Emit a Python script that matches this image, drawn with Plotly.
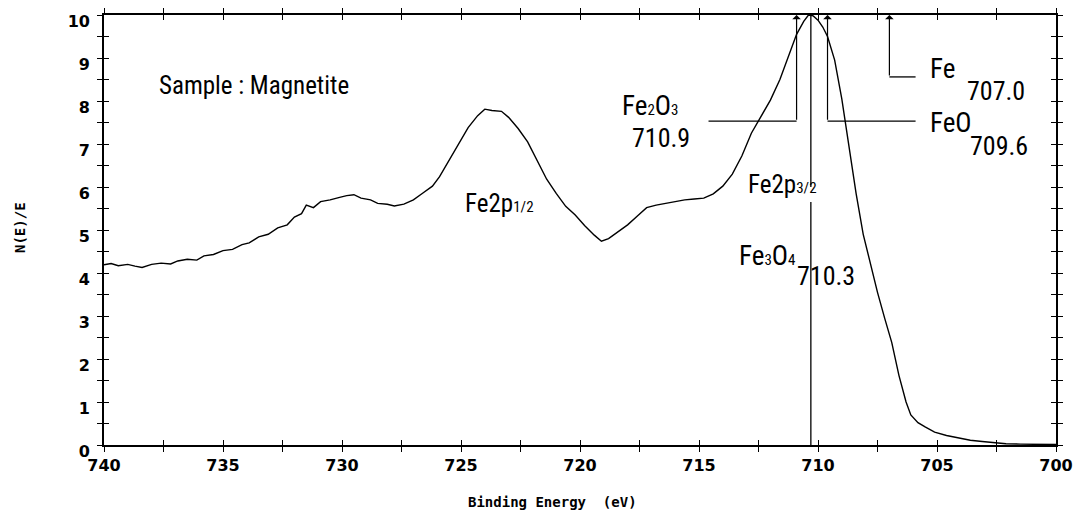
import plotly.graph_objects as go

# Fe 2p XPS spectrum of magnetite: binding energy (eV) vs normalised intensity N(E)/E
energy = [740.0, 739.7, 739.4, 739.0, 738.7, 738.4, 738.0, 737.6, 737.2, 736.9,
          736.5, 736.1, 735.8, 735.4, 735.0, 734.6, 734.2, 733.9, 733.5, 733.1,
          732.7, 732.3, 732.0, 731.7, 731.5, 731.2, 730.9, 730.5, 730.1, 729.8,
          729.5, 729.2, 728.8, 728.5, 728.1, 727.8, 727.4, 727.0, 726.6, 726.2,
          725.9, 725.5, 725.1, 724.7, 724.3, 724.0, 723.7, 723.3, 723.0, 722.6,
          722.2, 721.8, 721.4, 721.0, 720.6, 720.2, 719.8, 719.4, 719.1, 718.8,
          718.4, 718.0, 717.6, 717.2, 716.8, 716.4, 716.0, 715.6, 715.2, 714.8,
          714.4, 714.0, 713.6, 713.2, 712.8, 712.4, 712.0, 711.6, 711.2, 710.9,
          710.6, 710.4, 710.2, 710.0, 709.8, 709.6, 709.3, 709.0, 708.7, 708.4,
          708.1, 707.8, 707.5, 707.2, 706.9, 706.6, 706.3, 706.1, 705.8, 705.5,
          705.1, 704.6, 704.1, 703.6, 703.1, 702.6, 702.1, 701.5, 700.8, 700.0]
intensity = [4.19, 4.22, 4.17, 4.20, 4.16, 4.13, 4.20, 4.23, 4.21, 4.28,
             4.32, 4.30, 4.40, 4.43, 4.52, 4.55, 4.66, 4.70, 4.84, 4.90,
             5.05, 5.12, 5.30, 5.38, 5.58, 5.52, 5.66, 5.70, 5.76, 5.80,
             5.82, 5.74, 5.70, 5.62, 5.60, 5.56, 5.60, 5.70, 5.86, 6.02,
             6.24, 6.62, 7.00, 7.38, 7.66, 7.81, 7.78, 7.76, 7.62, 7.36,
             7.05, 6.62, 6.18, 5.85, 5.55, 5.35, 5.10, 4.88, 4.74, 4.80,
             4.96, 5.12, 5.32, 5.52, 5.58, 5.62, 5.66, 5.70, 5.72, 5.74,
             5.84, 6.02, 6.30, 6.72, 7.25, 7.62, 8.02, 8.50, 9.10, 9.55,
             9.85, 10.00, 9.98, 9.88, 9.72, 9.50, 8.95, 8.05, 6.95, 5.85,
             4.90, 4.22, 3.55, 2.95, 2.38, 1.62, 1.00, 0.70, 0.52, 0.42,
             0.30, 0.22, 0.16, 0.11, 0.08, 0.05, 0.03, 0.02, 0.01, 0.01]

# Reference binding energies marked on the spectrum (eV)
fe3o4_be = 710.3
fe2o3_be = 710.9
feo_be = 709.6
fe_be = 707.0

x_ticks = [740, 735, 730, 725, 720, 715, 710, 705, 700]
y_ticks = [0, 1, 2, 3, 4, 5, 6, 7, 8, 9, 10]

NARROW = "Roboto Condensed, Liberation Sans Narrow, DejaVu Sans Condensed, Roboto, sans-serif"
TICKFONT = dict(family="DejaVu Sans, sans-serif", size=16, color="black", weight="bold")
TITLEFONT = dict(family="DejaVu Sans Mono, monospace", size=14, color="black", weight="bold")

fig = go.Figure()
fig.add_trace(go.Scatter(x=energy, y=intensity, mode="lines",
                         line=dict(color="black", width=1.4), showlegend=False,
                         hoverinfo="skip"))
# empty trace so the inner tick axes get drawn
fig.add_trace(go.Scatter(x=[], y=[], xaxis="x2", yaxis="y2", showlegend=False))

axis_common = dict(showline=True, linecolor="black", linewidth=1.6, showgrid=False,
                   zeroline=False, mirror="allticks", ticklen=5, tickwidth=1.4,
                   tickcolor="black", automargin=False)

fig.update_layout(
    width=1075, height=510,
    margin=dict(l=104, r=19, t=15, b=65),
    plot_bgcolor="white", paper_bgcolor="white",
    xaxis=dict(range=[740, 700], tickvals=x_ticks, ticktext=[str(v) for v in x_ticks],
               ticks="outside", tickfont=TICKFONT, ticklabeloverflow="allow",
               minor=dict(dtick=2.5, tick0=700, ticks="outside", ticklen=5,
                          tickwidth=1.4, tickcolor="black"),
               **axis_common),
    yaxis=dict(range=[0, 10], tickvals=y_ticks, ticktext=[str(v) for v in y_ticks],
               ticks="outside", tickfont=TICKFONT, ticklabelshift=6,
               ticklabelstandoff=4, ticklabeloverflow="allow",
               minor=dict(dtick=0.5, tick0=0, ticks="outside", ticklen=5,
                          tickwidth=1.4, tickcolor="black"),
               **axis_common),
    xaxis2=dict(range=[740, 700], overlaying="x", anchor="y2", side="bottom",
                ticks="inside", showticklabels=False, tickvals=x_ticks,
                minor=dict(dtick=2.5, tick0=700, ticks="inside", ticklen=5,
                           tickwidth=1.4, tickcolor="black"),
                **axis_common),
    yaxis2=dict(range=[0, 10], overlaying="y", anchor="x2", side="left",
                ticks="inside", showticklabels=False, tickvals=y_ticks,
                minor=dict(dtick=0.5, tick0=0, ticks="inside", ticklen=5,
                           tickwidth=1.4, tickcolor="black"),
                **axis_common),
)

# Peak marker lines (the Fe3O4 line breaks around the Fe2p3/2 label)
line_style = dict(color="black", width=1.3)
fig.add_shape(type="line", xref="x", yref="y", x0=fe3o4_be, x1=fe3o4_be, y0=6.0, y1=10,
              line=line_style)
fig.add_shape(type="line", xref="x", yref="y", x0=fe3o4_be, x1=fe3o4_be, y0=0, y1=5.65,
              line=line_style)
fig.add_shape(type="line", xref="x", yref="y", x0=714.6, x1=fe2o3_be, y0=7.53, y1=7.53,
              line=line_style)
fig.add_shape(type="line", xref="x", yref="y", x0=feo_be, x1=705.9, y0=7.53, y1=7.53,
              line=line_style)
fig.add_shape(type="line", xref="x", yref="y", x0=fe_be, x1=705.9, y0=8.56, y1=8.56,
              line=line_style)

for be, base in [(fe2o3_be, 7.53), (feo_be, 7.53), (fe_be, 8.56)]:
    fig.add_annotation(x=be, y=10, ax=be, ay=base, xref="x", yref="y",
                       axref="x", ayref="y", text="", showarrow=True,
                       arrowhead=1, arrowsize=1.2, arrowwidth=1.2, arrowcolor="black")


def sub(s, size=15):
    return f"<span style='font-size:{size}px'>{s}</span>"


def label(text, x, y, size=27):
    fig.add_annotation(x=x, y=y, xref="x", yref="y", text=text, showarrow=False,
                       xanchor="left", yanchor="middle",
                       font=dict(family=NARROW, size=size, color="black"))


label("Sample : Magnetite", 737.77, 8.35, size=25)
label("Fe" + sub("2") + "O" + sub("3"), 718.32, 7.88)
label(f"{fe2o3_be:.1f}", 717.9, 7.15, size=26)
label("Fe", 705.38, 8.74)
label(f"{fe_be:.1f}", 703.82, 8.24, size=26)
label("FeO", 705.38, 7.48)
label(f"{feo_be:.1f}", 703.7, 6.95, size=26)
label("Fe2p" + sub("1/2"), 724.92, 5.62, size=25)
label("Fe2p" + sub("3/2"), 713.03, 6.06, size=25)
label("Fe" + sub("3") + "O" + sub("4"), 713.40, 4.40)
label(f"{fe3o4_be:.1f}", 710.97, 3.92, size=26)

# Axis titles
fig.add_annotation(x=0.4716, y=-0.1326, xref="paper", yref="paper",
                   text="Binding Energy  (eV)", showarrow=False,
                   xanchor="center", yanchor="middle", font=TITLEFONT)
fig.add_annotation(x=-0.0882, y=0.5047, xref="paper", yref="paper",
                   text="N(E)/E", showarrow=False, textangle=-90,
                   xanchor="center", yanchor="middle", font=TITLEFONT)

fig.write_html("out.html")
